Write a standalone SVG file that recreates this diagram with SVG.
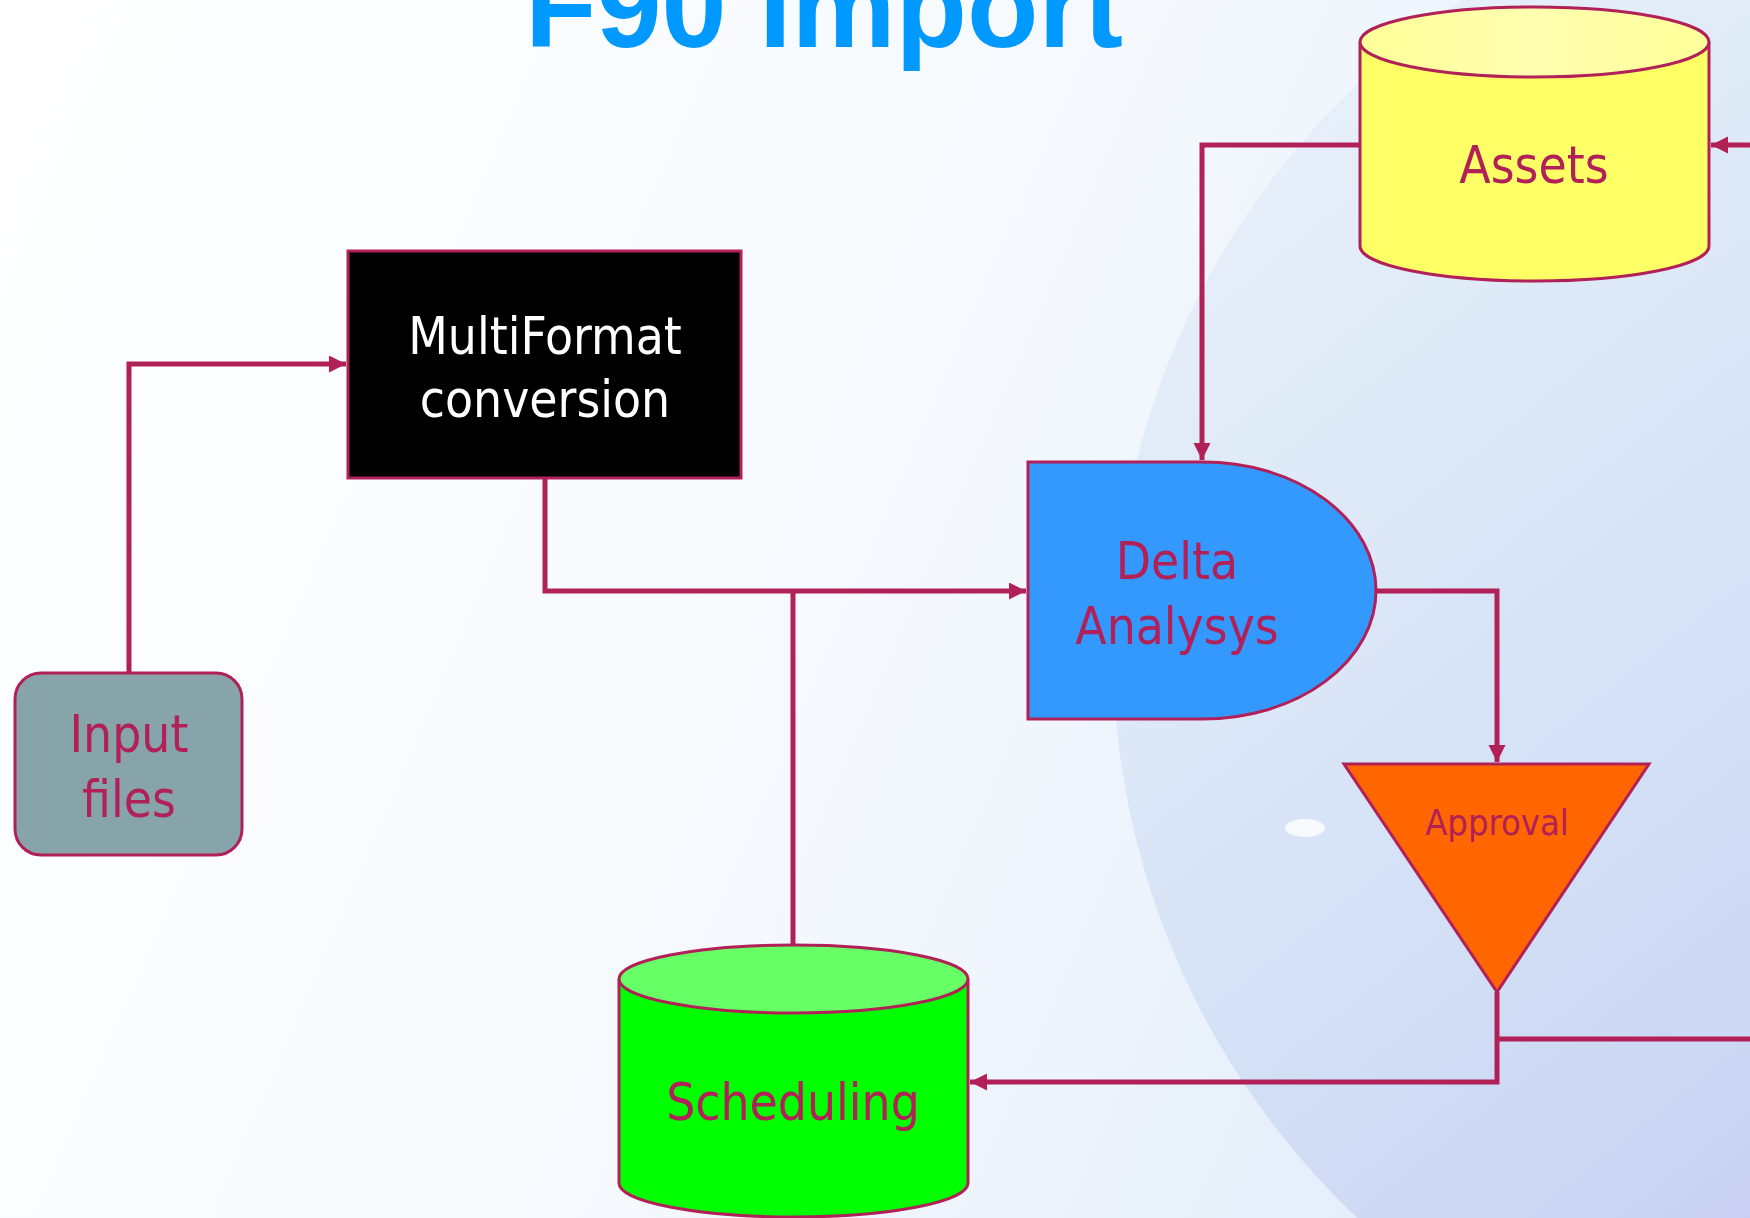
<svg xmlns="http://www.w3.org/2000/svg" width="1750" height="1218" viewBox="0 0 1750 1218">
<style>
.lbl{font-family:"DejaVu Sans Condensed","DejaVu Sans",Verdana,sans-serif;font-size:51px;fill:#B22058;text-anchor:middle}
.shape{stroke:#B22058;stroke-width:3}
.conn{fill:none;stroke:#B22058;stroke-width:5}
</style>
<defs>
<marker id="arr" markerUnits="userSpaceOnUse" markerWidth="18" markerHeight="18" refX="17" refY="8.5" orient="auto">
<path d="M0,0 L17,8.5 L0,17 Z" fill="#B22058"/>
</marker>
<linearGradient id="bg" x1="0" y1="0" x2="1" y2="0.3">
<stop offset="0" stop-color="#FFFFFF"/>
<stop offset="0.6" stop-color="#F5F9FD"/>
<stop offset="1" stop-color="#E4EEF9"/>
</linearGradient>
<linearGradient id="sphere" x1="0" y1="0" x2="0.8" y2="1">
<stop offset="0" stop-color="#EEF4FB"/>
<stop offset="0.35" stop-color="#DCE8F7"/>
<stop offset="0.65" stop-color="#CCD8F4"/>
<stop offset="1" stop-color="#C0B0EE"/>
</linearGradient>
<linearGradient id="ytop" x1="0" y1="0" x2="1" y2="0">
<stop offset="0" stop-color="#FFFF99"/>
<stop offset="0.5" stop-color="#FFFFB0"/>
<stop offset="1" stop-color="#FFFF99"/>
</linearGradient>
</defs>
<rect width="1750" height="1218" fill="url(#bg)"/>
<circle cx="1893" cy="651" r="780" fill="url(#sphere)"/>
<ellipse cx="1305" cy="828" rx="20" ry="9" fill="#FFFFFF" opacity="0.8"/>
<text x="824" y="47" font-family="Liberation Sans, Arial, sans-serif" font-weight="bold" font-size="117" fill="#0099FF" text-anchor="middle">F90 Import</text>
<g id="connectors">
<path class="conn" d="M129,673 V364 H346" marker-end="url(#arr)"/>
<path class="conn" d="M545,478 V591 H1026" marker-end="url(#arr)"/>
<path class="conn" d="M793,945 V591"/>
<path class="conn" d="M1360,145 H1202 V460" marker-end="url(#arr)"/>
<path class="conn" d="M1376,591 H1497 V762" marker-end="url(#arr)"/>
<path class="conn" d="M1497,992 V1082 H970" marker-end="url(#arr)"/>
<path class="conn" d="M1499,1039 H1750"/>
<path class="conn" d="M1750,145 H1711" marker-end="url(#arr)"/>
</g>
<g id="input-files">
<rect class="shape" x="15" y="673" width="227" height="182" rx="26" fill="#86A4AA"/>
<text class="lbl" x="129" y="752">Input</text>
<text class="lbl" x="129" y="817">files</text>
</g>
<g id="multiformat">
<rect class="shape" x="348" y="251" width="393" height="227" fill="#000000"/>
<text class="lbl" x="545" y="354" style="fill:#FFFFFF">MultiFormat</text>
<text class="lbl" x="545" y="417" style="fill:#FFFFFF">conversion</text>
</g>
<g id="delta-analysys">
<path class="shape" d="M1028,462 H1203 A173,128.5 0 0 1 1203,719 H1028 Z" fill="#3399FF"/>
<text class="lbl" x="1177" y="579">Delta</text>
<text class="lbl" x="1177" y="644">Analysys</text>
</g>
<g id="assets">
<path class="shape" d="M1360,42 V246 A174.5,35 0 0 0 1709,246 V42" fill="#FFFF66"/>
<ellipse class="shape" cx="1534.5" cy="42" rx="174.5" ry="35" fill="url(#ytop)"/>
<text class="lbl" x="1534" y="183">Assets</text>
</g>
<g id="approval">
<path class="shape" d="M1344,764 H1649 L1497,992 Z" fill="#FF6600"/>
<text class="lbl" x="1497" y="835" style="font-size:36px">Approval</text>
</g>
<g id="scheduling">
<path class="shape" d="M619,979 V1183 A174.5,34 0 0 0 968,1183 V979" fill="#00FF00"/>
<ellipse class="shape" cx="793.5" cy="979" rx="174.5" ry="34" fill="#66FF66"/>
<text class="lbl" x="793" y="1120">Scheduling</text>
</g>
</svg>
